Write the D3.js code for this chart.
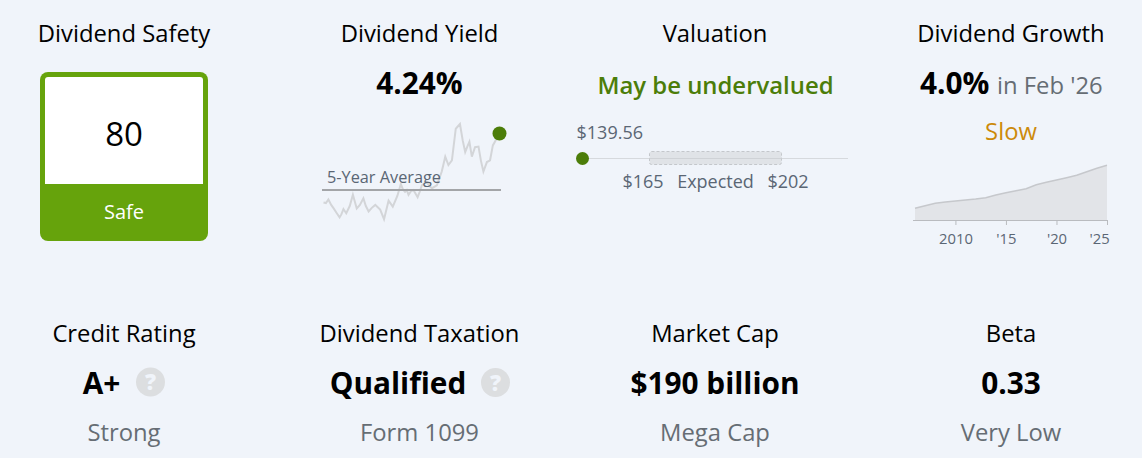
<!DOCTYPE html>
<html>
<head>
<meta charset="utf-8">
<script src="https://cdn.jsdelivr.net/npm/d3@7"></script>
<style>
  html, body { margin: 0; padding: 0; background: #f0f4fa; overflow: hidden; }
  svg { display: block; font-family: "Open Sans", sans-serif; }
</style>
</head>
<body>
<div id="chart"></div>
<script>
// Dividend yield, last five years (fractional year, percent)
const yieldYears = [2021.10, 2021.17, 2021.24, 2021.32, 2021.39, 2021.48, 2021.56, 2021.61, 2021.67, 2021.75, 2021.85, 2021.94, 2022.05, 2022.14, 2022.24, 2022.31, 2022.39, 2022.48, 2022.58, 2022.65, 2022.72, 2022.83, 2022.96, 2023.08, 2023.21, 2023.31, 2023.37, 2023.43, 2023.48, 2023.53, 2023.60, 2023.67, 2023.79, 2023.85, 2023.91, 2024.05, 2024.12, 2024.20, 2024.34, 2024.48, 2024.58, 2024.67, 2024.77, 2024.88, 2025.00, 2025.08, 2025.15, 2025.21, 2025.27, 2025.34, 2025.43, 2025.53, 2025.60, 2025.67, 2025.77, 2025.86, 2025.94, 2026.13];
const yieldValues = [3.08, 3.07, 3.13, 3.04, 2.98, 2.90, 2.83, 2.88, 2.97, 2.90, 3.02, 3.21, 2.98, 3.04, 3.15, 3.02, 2.93, 2.99, 3.04, 3.00, 2.96, 2.80, 3.11, 3.01, 3.19, 3.39, 3.30, 3.26, 3.29, 3.21, 3.27, 3.29, 3.17, 3.26, 3.37, 3.43, 3.36, 3.32, 3.37, 3.60, 3.85, 3.71, 3.79, 4.32, 4.40, 4.12, 3.93, 4.02, 4.10, 3.85, 4.01, 4.02, 3.78, 3.60, 3.76, 3.79, 4.04, 4.24];
const yieldAverage = 3.29;

// Valuation
const currentPrice = 139.56;
const expectedLow = 165;
const expectedHigh = 202;

// Dividend growth (estimated from the area height)
const growthYears = [2006, 2007, 2008, 2009, 2010, 2011, 2012, 2013, 2014, 2015, 2016, 2017, 2018, 2019, 2020, 2021, 2022, 2023, 2024, 2025];
const growthValues = [1.17, 1.43, 1.67, 1.80, 1.90, 2.00, 2.10, 2.23, 2.50, 2.73, 2.93, 3.13, 3.53, 3.77, 4.00, 4.23, 4.47, 4.83, 5.17, 5.47];
const growthTicks = [2010, 2015, 2020, 2025];
const growthTickLabels = ['2010', "'15", "'20", "'25"];

const safetyScore = 80;
const safetyLabel = 'Safe';

const GREEN = '#66a30c';
const DARK_GREEN = '#4c7d09';
const GREY_TEXT = '#666d74';
const SLATE = '#5a6674';

const svg = d3.select('#chart')
  .append('svg')
  .attr('width', 1142)
  .attr('height', 458);

function label(x, y, text, size, color, weight, anchor) {
  return svg.append('text')
    .attr('x', x)
    .attr('y', y)
    .attr('text-anchor', anchor || 'middle')
    .style('font-size', size + 'px')
    .style('font-weight', weight || 400)
    .style('fill', color)
    .text(text);
}

function helpIcon(cx, cy) {
  svg.append('circle').attr('cx', cx).attr('cy', cy).attr('r', 14.5).attr('fill', '#dcdee0');
  label(cx, cy + 8, '?', 22, '#f0f4fa', 800);
}

// Column titles
label(124, 42, 'Dividend Safety', 23.8, '#000');
label(419.5, 42, 'Dividend Yield', 23.8, '#000');
label(715, 42, 'Valuation', 23.8, '#000');
label(1011, 42, 'Dividend Growth', 23.8, '#000');
label(124, 342, 'Credit Rating', 23.8, '#000');
label(419.5, 342, 'Dividend Taxation', 23.8, '#000');
label(715, 342, 'Market Cap', 23.8, '#000');
label(1011, 342, 'Beta', 23.8, '#000');

// Safety box
svg.append('rect').attr('x', 40).attr('y', 72).attr('width', 168).attr('height', 169).attr('rx', 8).attr('fill', GREEN);
svg.append('path').attr('d', 'M45 80a3 3 0 0 1 3-3h152a3 3 0 0 1 3 3v104H45z').attr('fill', '#fff');
label(124, 146, safetyScore, 33, '#000');
label(124, 218.5, safetyLabel, 20, '#fff');

// Yield
label(419.5, 94, '4.24%', 29.8, '#000', 700);
const yieldX = d3.scaleLinear().domain([2021.10, 2026.13]).range([323.5, 499.5]);
const yieldY = d3.scaleLinear().domain([4.24, 3.29]).range([133.5, 190]);
svg.append('path')
  .datum(yieldYears.map((d, i) => [d, yieldValues[i]]))
  .attr('d', d3.line().x(d => yieldX(d[0])).y(d => yieldY(d[1])))
  .attr('fill', 'none')
  .attr('stroke', '#d3d5d8')
  .attr('stroke-width', 2);
svg.append('line')
  .attr('x1', 322).attr('x2', 501)
  .attr('y1', yieldY(yieldAverage)).attr('y2', yieldY(yieldAverage))
  .attr('stroke', '#a3a5a8')
  .attr('stroke-width', 2);
label(327, 183, '5-Year Average', 16.3, SLATE, 400, 'start');
svg.append('circle')
  .attr('cx', yieldX(2026.13)).attr('cy', yieldY(4.24))
  .attr('r', 7).attr('fill', DARK_GREEN);

// Valuation
label(715.5, 94, 'May be undervalued', 23.9, DARK_GREEN, 600);
const priceX = d3.scaleLinear().domain([currentPrice, expectedLow, expectedHigh]).range([582.5, 649.5, 781.5]);
svg.append('line').attr('x1', 578).attr('x2', 848).attr('y1', 158.5).attr('y2', 158.5).attr('stroke', '#d6d9dd');
svg.append('rect')
  .attr('x', priceX(expectedLow)).attr('y', 151.5)
  .attr('width', priceX(expectedHigh) - priceX(expectedLow)).attr('height', 13)
  .attr('rx', 2)
  .attr('fill', '#e0e3e7').attr('stroke', '#c4c7cb').attr('stroke-dasharray', '3 2');
svg.append('line').attr('x1', priceX(expectedLow)).attr('x2', priceX(expectedHigh)).attr('y1', 158.5).attr('y2', 158.5).attr('stroke', '#cfd2d6');
svg.append('circle').attr('cx', priceX(currentPrice)).attr('cy', 158.5).attr('r', 6.5).attr('fill', DARK_GREEN);
label(576.5, 139, '$' + currentPrice, 18, SLATE, 400, 'start');
label(643, 188, '$' + expectedLow, 18, SLATE);
label(715.5, 188, 'Expected', 18, SLATE);
label(788, 188, '$' + expectedHigh, 18, SLATE);

// Growth
label(920, 94, '4.0%', 29.8, '#000', 700, 'start');
label(997, 94, "in Feb '26", 23.8, GREY_TEXT, 400, 'start');
label(1011, 140, 'Slow', 23.8, '#cc8a0a');
const growthX = d3.scaleLinear().domain([2006, 2025]).range([915, 1107]);
const growthY = d3.scaleLinear().domain([0, 5.5]).range([220, 165]);
svg.append('path')
  .datum(growthYears.map((d, i) => [d, growthValues[i]]))
  .attr('d', d3.area().x(d => growthX(d[0])).y0(growthY(0)).y1(d => growthY(d[1])))
  .attr('fill', '#e2e4e8');
svg.append('path')
  .datum(growthYears.map((d, i) => [d, growthValues[i]]))
  .attr('d', d3.line().x(d => growthX(d[0])).y(d => growthY(d[1])))
  .attr('fill', 'none')
  .attr('stroke', '#c6c8cc')
  .attr('stroke-width', 1.5);
const growthAxis = d3.axisBottom(growthX)
  .tickValues(growthTicks)
  .tickFormat((d, i) => growthTickLabels[i])
  .tickSize(5)
  .tickSizeOuter(0);
const axisG = svg.append('g').attr('transform', 'translate(0,220)').call(growthAxis);
axisG.select('.domain').attr('d', 'M913,0.5H1108').attr('stroke', '#b9bbbf');
axisG.selectAll('.tick line').attr('stroke', '#b9bbbf');
axisG.selectAll('.tick text')
  .attr('y', 13)
  .attr('dx', d => d === 2025 ? -8 : 0)
  .style('font-family', '"Open Sans", sans-serif')
  .style('font-size', '14.8px')
  .style('fill', SLATE);

// Bottom row
label(101.5, 394, 'A+', 29.8, '#000', 700);
helpIcon(150.5, 382);
label(398, 394, 'Qualified', 29.8, '#000', 700);
helpIcon(495.5, 382.5);
label(715, 394, '$190 billion', 29.8, '#000', 700);
label(1011, 394, '0.33', 29.8, '#000', 700);
label(124, 441, 'Strong', 23.8, GREY_TEXT);
label(419.5, 441, 'Form 1099', 23.8, GREY_TEXT);
label(715, 441, 'Mega Cap', 23.8, GREY_TEXT);
label(1011, 441, 'Very Low', 23.8, GREY_TEXT);
</script>
</body>
</html>
